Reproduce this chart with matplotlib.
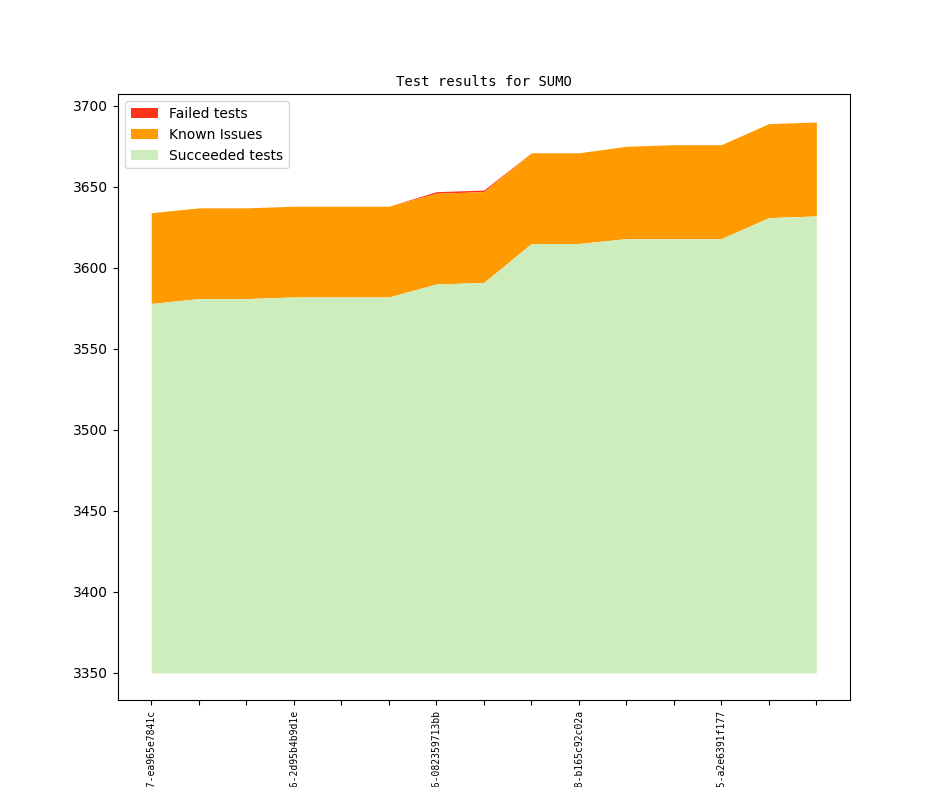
import numpy as np
from matplotlib import pyplot as plt

# values
revisions = [
    "v1_8_0+0547-ea965e7841c", "v1_8_0+0551-3c1f0a2b7de", "v1_8_0+0553-9ab42c0e611",
    "v1_8_0+0556-2d95b4b9d1e", "v1_8_0+0560-71e0c3d2a45", "v1_8_0+0562-f04b19c8e27",
    "v1_8_0+0566-082359713bb", "v1_8_0+0570-5c7d2e9f10a", "v1_8_0+0574-e3b8a61d4c9",
    "v1_8_0+0578-b165c92c02a", "v1_8_0+0581-0d4f7e2a935", "v1_8_0+0583-a97c15be206",
    "v1_8_0+0585-a2e6391f177", "v1_8_0+0589-6be21d0c8f4", "v1_8_0+0592-c31f8a7e5d0",
]
succeeded = [3578, 3581, 3581, 3582, 3582, 3582, 3590, 3591, 3615, 3615, 3618, 3618, 3618, 3631, 3632]
known = [56, 56, 56, 56, 56, 56, 56, 56, 56, 56, 57, 58, 58, 58, 58]
failed = [0, 0, 0, 0, 0, 0, 1, 1, 0, 0, 0, 0, 0, 0, 0]
base = 3350

x = np.arange(len(revisions))
succ = np.array(succeeded)
kn = succ + np.array(known)
fl = kn + np.array(failed)

fig = plt.figure(figsize=(9.44, 7.87), dpi=100)
ax = fig.add_subplot(111)
ax.fill_between(x, kn, fl, color="#ff3319", linewidth=0, label="Failed tests")
ax.fill_between(x, succ, kn, color="#ff9a00", linewidth=0, label="Known Issues")
ax.fill_between(x, base, succ, color="#ceedbd", linewidth=0, label="Succeeded tests")

# only every third revision gets a label, like the original report
ax.set_xticks(x)
ax.set_xticklabels([r if i % 3 == 0 else "" for i, r in enumerate(revisions)],
                   rotation=90, fontsize=7, family="DejaVu Sans Mono")
ax.set_title("Test results for SUMO", fontsize=10, family="DejaVu Sans Mono")
ax.legend(loc="upper left")

fig.savefig("out.png")
